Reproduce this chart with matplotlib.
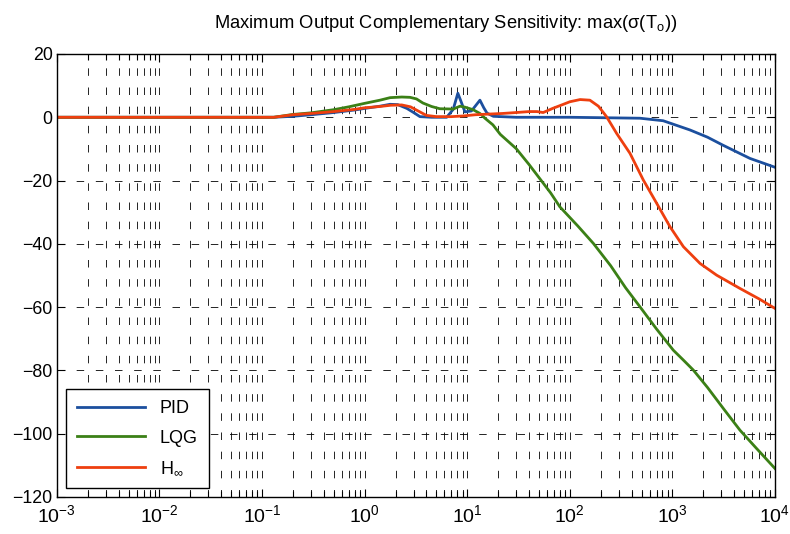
import numpy as np
import matplotlib
matplotlib.use('Agg')
import matplotlib.pyplot as plt
from matplotlib.ticker import FixedLocator, NullFormatter

plt.rcParams['font.family'] = ['Liberation Sans', 'DejaVu Sans']
plt.rcParams['mathtext.fontset'] = 'custom'
plt.rcParams['mathtext.rm'] = 'Liberation Sans'
plt.rcParams['mathtext.it'] = 'Liberation Sans:italic'
plt.rcParams['mathtext.default'] = 'regular'

# frequency [rad/s] and max singular value [dB]
pid_f = [0.001, 0.13, 0.2, 0.3, 0.5, 0.8, 1.0, 1.41, 1.77, 2.1, 2.58, 3.0, 3.46, 4.5, 6.3,
         7.3, 8.1, 8.7, 9.5, 11, 13.3, 14.5, 15.6, 18, 30, 100, 483, 813, 1480, 2200,
         3100, 5700, 10000]
pid_db = [0, 0, 0.3, 0.8, 1.5, 2.3, 2.8, 3.5, 4.1, 4.0, 2.8, 1.5, 0.2, 0, 0,
          2.5, 7.6, 5.0, 1.7, 2.0, 5.4, 3.0, 1.3, 0.3, 0, 0, -0.3, -1.1, -4.0, -6.3,
          -8.8, -13.0, -15.8]

lqg_f = [0.001, 0.13, 0.2, 0.3, 0.5, 0.7, 1.0, 1.41, 1.77, 2.3, 2.77, 3.2, 3.7, 4.5,
         5.4, 7.3, 8.5, 9.5, 11.4, 13.3, 15, 17.8, 21, 30, 40, 51, 65, 80, 120, 170, 250,
         350, 483, 700, 1020, 1276, 1600, 2200, 3200, 4560, 6500, 10000]
lqg_db = [0, 0, 0.9, 1.4, 2.4, 3.3, 4.4, 5.4, 6.2, 6.4, 6.3, 5.8, 4.5, 3.4,
          2.7, 2.6, 3.5, 3.2, 2.4, 1.2, -0.4, -2.4, -5.4, -9.9, -14.9, -19.4, -23.9, -28.3,
          -34.4, -39.9, -46.9, -53.9, -59.9, -66.9, -73.6, -76.7, -79.9, -85.4, -92.4,
          -98.9, -104.4, -111.0]

hinf_f = [0.001, 0.13, 0.2, 0.3, 0.5, 0.8, 1.0, 1.4, 1.8, 2.3, 2.8, 3.5, 4.0, 5, 7, 9,
          12, 16, 22, 30, 40, 48, 55, 68, 85, 100, 126, 157, 190, 228, 286, 386, 520,
          703, 948, 1280, 1860, 2700, 4560, 7000, 10000]
hinf_db = [0, 0, 0.8, 1.2, 1.8, 2.5, 3.0, 3.4, 3.8, 3.9, 3.3, 1.6, 0.6, 0.2, 0.2, 0.4,
           0.8, 1.0, 1.2, 1.5, 1.8, 1.8, 1.5, 2.8, 4.0, 4.9, 5.6, 5.4, 3.5, 0.2, -5.1,
           -11.4, -19.8, -27.2, -34.6, -40.9, -46.2, -49.9, -54.1, -57.4, -60.4]

labels = ['PID', 'LQG', r'H$_{\infty}$']
colors = ['#1c4f9e', '#3b8016', '#ee3f0f']
decades = list(range(-3, 5))

fig = plt.figure(figsize=(7.9, 5.34), dpi=100)
ax = fig.add_axes([0.072, 0.0693, 0.909, 0.8296])

for f, db, lab, c in zip([pid_f, lqg_f, hinf_f], [pid_db, lqg_db, hinf_db], labels, colors):
    ax.semilogx(f, db, color=c, lw=2.0, label=lab)

ax.set_xlim(1e-3, 1e4)
ax.set_ylim(-120, 20)
ax.set_yticks(np.arange(-120, 21, 20))
ax.set_xticks([10.0 ** d for d in decades])
ax.set_xticklabels(['$10^{%d}$' % d for d in decades])
minors = [m * 10.0 ** d for d in decades[:-1] for m in range(2, 10)]
ax.xaxis.set_minor_locator(FixedLocator(minors))
ax.xaxis.set_minor_formatter(NullFormatter())

ax.grid(True, which='major', axis='both', color='black', lw=0.6, linestyle=(0, (9, 14)))
ax.grid(True, which='minor', axis='x', color='black', lw=0.6, linestyle=(0, (9, 14)))
ax.set_axisbelow(True)

ax.tick_params(which='both', direction='in', top=True, right=True)
ax.tick_params(axis='x', labelsize=14, pad=5)
ax.tick_params(axis='y', labelsize=12.8, pad=3)
ax.tick_params(which='major', length=6, width=0.8)
ax.tick_params(which='minor', length=4, width=0.8)
for s in ax.spines.values():
    s.set_linewidth(1.0)

ax.set_title('Maximum Output Complementary Sensitivity: max(σ(T$_{\\rm o}$))',
             fontsize=13.2, pad=19, x=0.542)

leg = ax.legend(loc='lower left', fontsize=13, handlelength=3.8, fancybox=False,
                framealpha=1, edgecolor='black', borderpad=0.6, labelspacing=0.7,
                borderaxespad=0.5)
leg.get_frame().set_linewidth(1.0)

fig.savefig('out.png', dpi=100)
